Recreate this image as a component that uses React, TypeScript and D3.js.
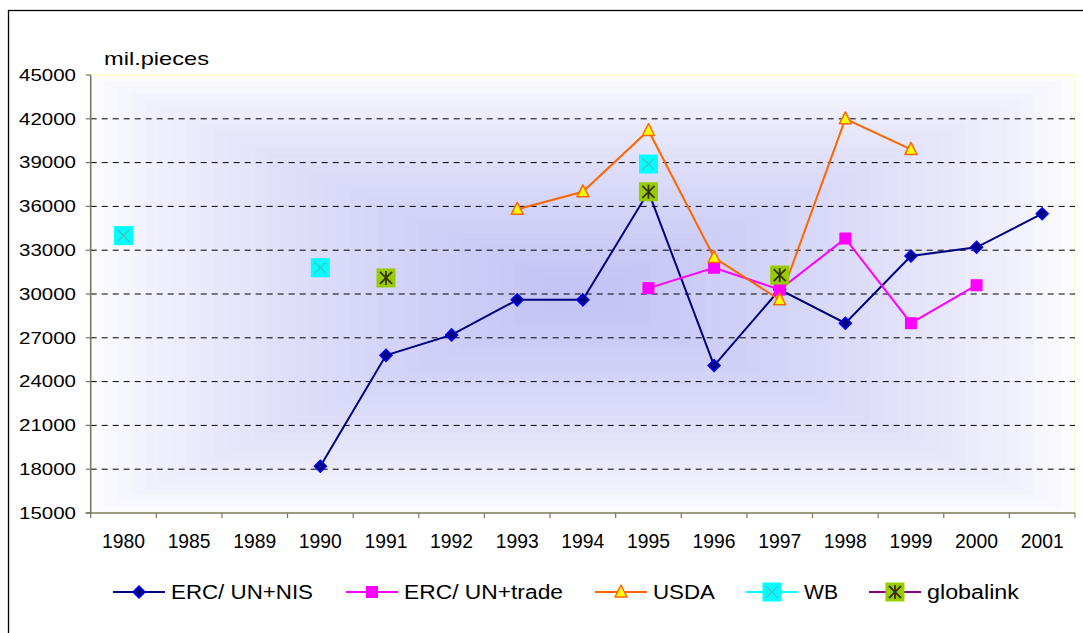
import React, { useEffect, useRef } from 'react';
import * as d3 from 'd3';

// categories and series
const categories = ['1980', '1985', '1989', '1990', '1991', '1992', '1993', '1994', '1995', '1996', '1997', '1998', '1999', '2000', '2001'];
const ercNis = [null, null, null, 18200, 25800, 27200, 29600, 29600, 37000, 25100, 30300, 28000, 32600, 33200, 35500];
const ercTrade = [null, null, null, null, null, null, null, null, 30400, 31800, 30300, 33800, 28000, 30600, null];
const usda = [null, null, null, null, null, null, 35800, 37000, 41200, 32500, 29600, 42000, 39900, null, null];
const wb = [34000, null, null, 31800, null, null, null, null, 38900, null, null, null, null, null, null];
const globalink = [null, null, null, null, 31100, null, null, null, 37000, null, 31300, null, null, null, null];
const yTicks = [15000, 18000, 21000, 24000, 27000, 30000, 33000, 36000, 39000, 42000, 45000];

const FONT = '"Liberation Sans", Arial, sans-serif';

type Val = number | null;

const series = [
  { name: 'ERC/ UN+NIS', values: ercNis, line: '#000080', marker: 'diamond', lw: 142 },
  { name: 'ERC/ UN+trade', values: ercTrade, line: '#ff00ff', marker: 'square', lw: 159 },
  { name: 'USDA', values: usda, line: '#ff6600', marker: 'triangle', lw: 62 },
  { name: 'WB', values: wb, line: '#00ffff', marker: 'wb', lw: 34 },
  { name: 'globalink', values: globalink, line: '#800080', marker: 'star', lw: 92 },
];

function drawMarker(g: any, kind: string, x: number, y: number) {
  if (kind === 'diamond') {
    g.append('path')
      .attr('d', `M${x},${y - 6}L${x + 6},${y}L${x},${y + 6}L${x - 6},${y}Z`)
      .attr('fill', '#000080').attr('stroke', '#0000ff').attr('stroke-width', 1.5);
  } else if (kind === 'square') {
    g.append('rect').attr('x', x - 6).attr('y', y - 6).attr('width', 12).attr('height', 12)
      .attr('fill', '#ff00ff');
  } else if (kind === 'triangle') {
    g.append('path')
      .attr('d', `M${x},${y - 7}L${x + 6},${y + 5}L${x - 6},${y + 5}Z`)
      .attr('fill', '#ffff00').attr('stroke', '#ff6600').attr('stroke-width', 1.5)
      .attr('stroke-linejoin', 'round');
  } else if (kind === 'wb') {
    g.append('rect').attr('x', x - 9.5).attr('y', y - 9.5).attr('width', 19).attr('height', 19)
      .attr('fill', '#00ffff');
    g.append('path')
      .attr('d', `M${x - 6},${y - 6}L${x + 6},${y + 6}M${x + 6},${y - 6}L${x - 6},${y + 6}`)
      .attr('stroke', '#3cc8c8').attr('stroke-width', 1.5);
  } else if (kind === 'star') {
    g.append('rect').attr('x', x - 9.5).attr('y', y - 9.5).attr('width', 19).attr('height', 19)
      .attr('fill', '#99cc00');
    g.append('path')
      .attr('d', `M${x - 6},${y - 6}L${x + 6},${y + 6}M${x + 6},${y - 6}L${x - 6},${y + 6}M${x},${y - 7}L${x},${y + 7}`)
      .attr('stroke', '#333300').attr('stroke-width', 1.8);
  }
}

const App = () => {
  const chartRef = useRef<SVGSVGElement>(null);

  useEffect(() => {
    const W = 1083;
    const H = 633;
    const plot = { left: 90.7, top: 75, right: 1075, bottom: 513 };
    const pw = plot.right - plot.left;
    const ph = plot.bottom - plot.top;

    const svg = d3.select(chartRef.current);
    svg.selectAll('*').remove();

    svg.append('rect').attr('width', W).attr('height', H).attr('fill', '#ffffff');
    // outer chart frame (runs off the right and bottom edges)
    svg.append('rect').attr('x', 8.5).attr('y', 10.5).attr('width', 1200).attr('height', 800)
      .attr('fill', 'none').attr('stroke', '#000').attr('stroke-width', 1.3);

    const x = d3.scaleBand().domain(categories).range([plot.left, plot.right]);
    const y = d3.scaleLinear().domain([15000, 45000]).range([plot.bottom, plot.top]);

    // "from centre" gradient of the plot area, drawn as nested rectangles
    const bg = svg.append('g');
    const steps = 36;
    const col = d3.interpolateRgb('#ffffff', '#c2c2f5');
    const cx = plot.left + pw / 2;
    const cy = plot.top + ph / 2;
    for (let i = 0; i < steps; i++) {
      const t = i / steps;
      const hw = (1 - t) * pw / 2;
      const hh = (1 - t) * ph / 2;
      bg.append('rect').attr('x', cx - hw).attr('y', cy - hh).attr('width', hw * 2).attr('height', hh * 2)
        .attr('fill', col(Math.pow((i + 0.5) / steps, 0.7)));
    }
    // plot border (light yellow)
    svg.append('rect').attr('x', plot.left).attr('y', plot.top).attr('width', pw).attr('height', ph)
      .attr('fill', 'none').attr('stroke', '#ffffc4').attr('stroke-width', 1.5);

    // gridlines
    svg.append('g').selectAll('line').data(yTicks.filter((v) => v > 15000 && v < 45000)).enter()
      .append('line')
      .attr('x1', plot.left).attr('x2', plot.right)
      .attr('y1', (d) => y(d)).attr('y2', (d) => y(d))
      .attr('stroke', '#000').attr('stroke-width', 1).attr('stroke-dasharray', '6,5');

    // axes
    const axisCol = '#7a7a60';
    svg.append('line').attr('x1', plot.left).attr('x2', plot.left).attr('y1', plot.top).attr('y2', plot.bottom)
      .attr('stroke', axisCol).attr('stroke-width', 1.6);
    svg.append('line').attr('x1', plot.left - 5).attr('x2', plot.right).attr('y1', plot.bottom).attr('y2', plot.bottom)
      .attr('stroke', axisCol).attr('stroke-width', 1.6);
    svg.append('g').selectAll('line').data(yTicks).enter().append('line')
      .attr('x1', plot.left - 5).attr('x2', plot.left)
      .attr('y1', (d) => y(d)).attr('y2', (d) => y(d))
      .attr('stroke', axisCol).attr('stroke-width', 1.2);
    const bounds = categories.map((c) => x(c) as number).concat([plot.right]);
    svg.append('g').selectAll('line').data(bounds).enter().append('line')
      .attr('x1', (d) => d).attr('x2', (d) => d)
      .attr('y1', plot.bottom).attr('y2', plot.bottom + 5)
      .attr('stroke', axisCol).attr('stroke-width', 1.2);

    // y labels
    svg.append('g').selectAll('text').data(yTicks).enter().append('text')
      .attr('x', 76).attr('y', (d) => y(d) + 5.8)
      .attr('text-anchor', 'end')
      .attr('font-family', FONT).attr('font-size', 16.5)
      .attr('textLength', 57).attr('lengthAdjust', 'spacingAndGlyphs')
      .text((d) => String(d));

    // x labels
    svg.append('g').selectAll('text').data(categories).enter().append('text')
      .attr('x', (d) => (x(d) as number) + x.bandwidth() / 2).attr('y', 548)
      .attr('text-anchor', 'middle')
      .attr('font-family', FONT).attr('font-size', 19.5)
      .attr('textLength', 43).attr('lengthAdjust', 'spacingAndGlyphs')
      .text((d) => d);

    // unit label
    svg.append('text').attr('x', 104).attr('y', 65)
      .attr('font-family', FONT).attr('font-size', 18.5)
      .attr('textLength', 105).attr('lengthAdjust', 'spacingAndGlyphs')
      .text('mil.pieces');

    // series
    const cxOf = (i: number) => (x(categories[i]) as number) + x.bandwidth() / 2;
    const line = d3.line<Val>()
      .defined((d) => d !== null)
      .x((d, i) => cxOf(i))
      .y((d) => y(d as number));

    series.forEach((s) => {
      svg.append('path').datum(s.values)
        .attr('d', line)
        .attr('fill', 'none').attr('stroke', s.line).attr('stroke-width', 2);
    });
    series.forEach((s) => {
      const g = svg.append('g');
      s.values.forEach((v, i) => {
        if (v !== null) drawMarker(g, s.marker, cxOf(i), y(v));
      });
    });

    // legend
    const legendX = [113, 346, 595, 746, 869];
    const ly = 592;
    series.forEach((s, k) => {
      const lx = legendX[k];
      svg.append('line').attr('x1', lx).attr('x2', lx + 52).attr('y1', ly).attr('y2', ly)
        .attr('stroke', s.line).attr('stroke-width', 2);
      drawMarker(svg.append('g'), s.marker, lx + 26, ly);
      svg.append('text').attr('x', lx + 58).attr('y', ly + 6.5)
        .attr('font-family', FONT).attr('font-size', 19.5)
        .attr('textLength', s.lw).attr('lengthAdjust', 'spacingAndGlyphs')
        .text(s.name);
    });
  }, []);

  return (
    <svg
      ref={chartRef}
      width={1083}
      height={633}
      style={{ position: 'fixed', left: 0, top: 0, display: 'block' }}
    />
  );
};

export default App;
